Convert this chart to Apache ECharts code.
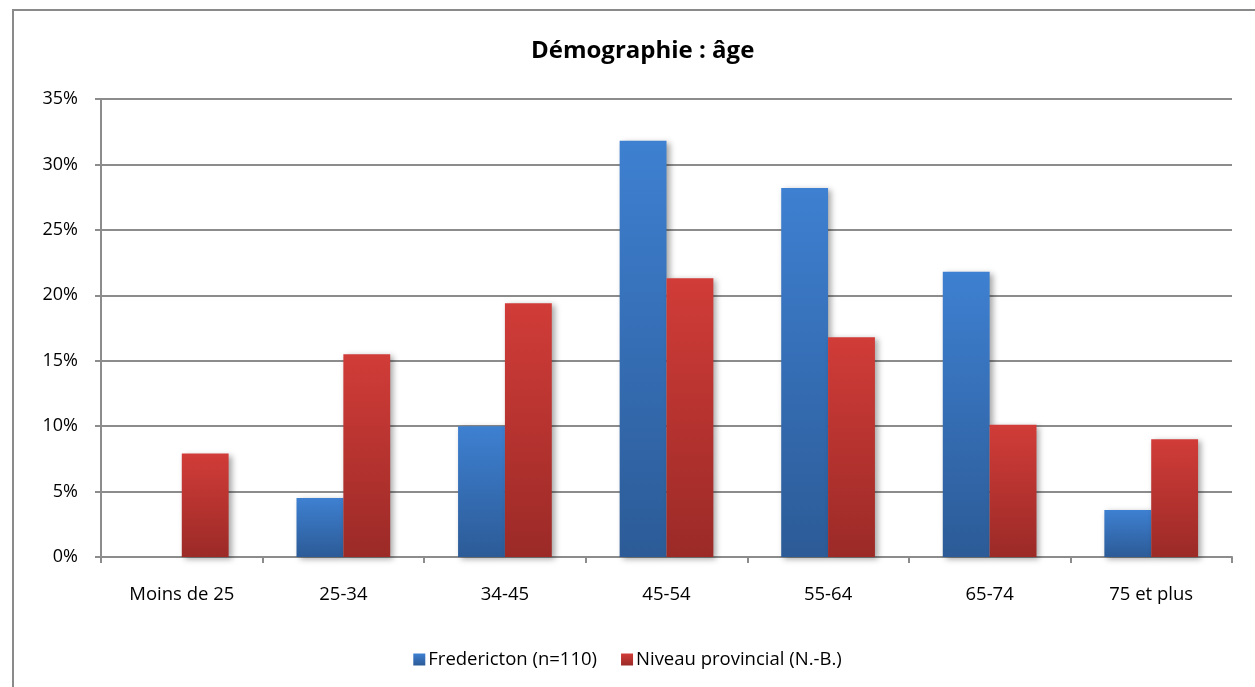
<!DOCTYPE html>
<html>
<head>
<meta charset="utf-8">
<script src="https://cdn.jsdelivr.net/npm/echarts@6/dist/echarts.min.js"></script>
<style>
  html, body { margin: 0; padding: 0; background: #fff; }
  #chart { width: 1255px; height: 687px; }
</style>
</head>
<body>
<div id="chart"></div>
<script>
// Age groups and shares (%) for each population
var categories = ['Moins de 25', '25-34', '34-45', '45-54', '55-64', '65-74', '75 et plus'];
var fredericton = [0, 4.5, 10.0, 31.8, 28.2, 21.8, 3.6];
var provincial = [7.9, 15.5, 19.4, 21.3, 16.8, 10.1, 9.0];
var seriesNames = ['Fredericton (n=110)', 'Niveau provincial (N.-B.)'];
var titleText = 'Démographie : âge';

var FONT = '"Open Sans", "DejaVu Sans", sans-serif';
var GRID_COLOR = '#8c8c8c';

function vGrad(top, bottom) {
  return new echarts.graphic.LinearGradient(0, 0, 0, 1, [
    { offset: 0, color: top },
    { offset: 1, color: bottom }
  ]);
}

var chart = echarts.init(document.getElementById('chart'), null, { renderer: 'canvas' });

chart.setOption({
  animation: false,
  backgroundColor: '#ffffff',
  textStyle: { fontFamily: FONT },
  title: {
    text: titleText,
    left: 526,
    top: 34,
    textStyle: { fontFamily: FONT, fontSize: 24, fontWeight: 'bold', color: '#000' }
  },
  graphic: [{
    type: 'rect',
    shape: { x: 13, y: 10, width: 1300, height: 720 },
    style: { fill: 'none', stroke: '#8a8a8a', lineWidth: 2 },
    silent: true
  }],
  legend: {
    top: 645,
    left: 'center',
    itemWidth: 12,
    itemHeight: 12,
    itemGap: 24,
    icon: 'rect',
    textStyle: { fontFamily: FONT, fontSize: 18.5, color: '#000', padding: [0, 0, 0, -2] },
    data: seriesNames
  },
  grid: { left: 101, right: 23, top: 99, bottom: 130, containLabel: false },
  xAxis: {
    type: 'category',
    data: categories,
    axisLine: { lineStyle: { color: GRID_COLOR, width: 2 } },
    axisTick: { show: true, length: 6, lineStyle: { color: GRID_COLOR, width: 2 } },
    axisLabel: { margin: 28, fontFamily: FONT, fontSize: 18.5, color: '#000' }
  },
  yAxis: {
    type: 'value',
    min: 0,
    max: 35,
    interval: 5,
    axisLine: { show: true, lineStyle: { color: GRID_COLOR, width: 2 } },
    axisTick: { show: true, length: 6, lineStyle: { color: GRID_COLOR, width: 2 } },
    splitLine: { lineStyle: { color: GRID_COLOR, width: 2 } },
    axisLabel: {
      margin: 23,
      fontFamily: FONT,
      fontSize: 18,
      color: '#000',
      formatter: function (v) { return v + '%'; }
    }
  },
  series: [
    {
      name: seriesNames[0],
      type: 'bar',
      data: fredericton,
      barGap: '0%',
      barCategoryGap: '42%',
      itemStyle: {
        color: vGrad('#3e80d1', '#2c5b97'),
        shadowColor: 'rgba(0,0,0,0.35)',
        shadowBlur: 6,
        shadowOffsetX: 3,
        shadowOffsetY: 2
      }
    },
    {
      name: seriesNames[1],
      type: 'bar',
      data: provincial,
      barGap: '0%',
      barCategoryGap: '42%',
      itemStyle: {
        color: vGrad('#d13c38', '#9b2a27'),
        shadowColor: 'rgba(0,0,0,0.35)',
        shadowBlur: 6,
        shadowOffsetX: 3,
        shadowOffsetY: 2
      }
    }
  ]
});
</script>
</body>
</html>
